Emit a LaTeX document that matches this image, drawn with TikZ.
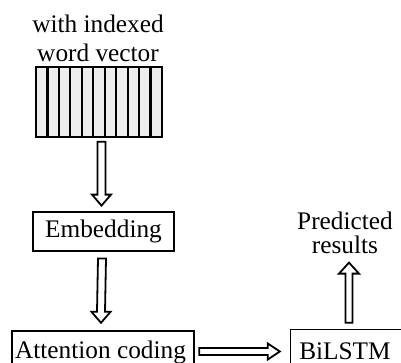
\documentclass[tikz,border=0pt]{standalone}
\usepackage{fontspec}
\setmainfont{Liberation Serif}
\usetikzlibrary{calc}

\tikzset{
  boxed/.style={draw=black, line width=1.8pt, inner sep=0pt},
  label/.style={font=\fontsize{25.3}{28}\selectfont, inner sep=0pt, align=center},
  hollow/.style={draw=black, fill=white, line width=1.8pt, line join=miter},
  cell/.style={draw=black, fill=black!7, line width=2.2pt},
}

% hollow block arrow pointing down from #1 to #2
\newcommand{\downarrowshape}[2]{%
  \draw[hollow] ($(#1)+(-4,0)$) -- ($(#2)+(-4,-11)$) -- ($(#2)+(-9.5,-11)$) -- (#2)
    -- ($(#2)+(9.5,-11)$) -- ($(#2)+(4,-11)$) -- ($(#1)+(4,0)$) -- cycle;}
% hollow block arrow pointing up from #1 to #2
\newcommand{\uparrowshape}[2]{%
  \draw[hollow] ($(#1)+(-3.5,0)$) -- ($(#2)+(-3.5,11)$) -- ($(#2)+(-10,11)$) -- (#2)
    -- ($(#2)+(10,11)$) -- ($(#2)+(3.5,11)$) -- ($(#1)+(3.5,0)$) -- cycle;}
% hollow block arrow pointing right from #1 to #2
\newcommand{\rightarrowshape}[2]{%
  \draw[hollow] ($(#1)+(0,-3.5)$) -- ($(#2)+(-12,-3.5)$) -- ($(#2)+(-12,-8)$) -- (#2)
    -- ($(#2)+(-12,8)$) -- ($(#2)+(-12,3.5)$) -- ($(#1)+(0,3.5)$) -- cycle;}

\begin{document}
\begin{tikzpicture}[x=1pt, y=-1pt]
  \useasboundingbox (0,0) rectangle (401,362);

  % input caption
  \node[label, font=\fontsize{25.3}{29.5}\selectfont] (caption) at (98,38.5) {with indexed\\word vector};

  % indexed word vector: a row of eleven cells
  \foreach \i in {0,...,10} {
    \draw[cell] ({36+\i*11.45},67) rectangle ({36+(\i+1)*11.45},137);
  }
  \node[inner sep=0pt, minimum width=126pt, minimum height=70pt] (vec) at (99,102) {};

  % processing boxes
  \node[boxed, minimum width=141pt, minimum height=39pt] (emb) at (103.5,231.5) {};
  \node[label] at (emb.center) {Embedding};

  \draw[line width=1.8pt] (12,380) -- (12,331) -- (194,331) -- (194,380);
  \node[inner sep=0pt, minimum width=182pt, minimum height=49pt] (att) at (103,355.5) {};
  \node[label, anchor=base] at (100.5,358.5) {Attention coding};

  \draw[line width=1.8pt] (290.5,380) -- (290.5,329.5) -- (420,329.5);
  \node[inner sep=0pt, minimum width=130pt, minimum height=49pt] (bil) at (355.5,354) {};
  \node[label, anchor=base] at (345,359) {BiLSTM};

  \node[label, font=\fontsize{25.3}{24}\selectfont] (pred) at (345,232.5) {Predicted\\results};

  % connectors
  \coordinate (a1s) at ($(vec.south)+(2.5,4.5)$);
  \coordinate (a1e) at ($(emb.north)+(-2,-5.5)$);
  \downarrowshape{a1s}{a1e}

  \coordinate (a2s) at ($(emb.south)+(-1.5,6.5)$);
  \coordinate (a2e) at ($(att.north)+(-2,-8)$);
  \downarrowshape{a2s}{a2e}

  \coordinate (a3s) at ($(att.east)+(5,-4)$);
  \coordinate (a3e) at ($(bil.west)+(-10.5,-2.5)$);
  \rightarrowshape{a3s}{a3e}

  \coordinate (a4s) at ($(bil.north)+(-6.5,-6.5)$);
  \coordinate (a4e) at ($(pred.south)+(4,9)$);
  \uparrowshape{a4s}{a4e}
\end{tikzpicture}
\end{document}
